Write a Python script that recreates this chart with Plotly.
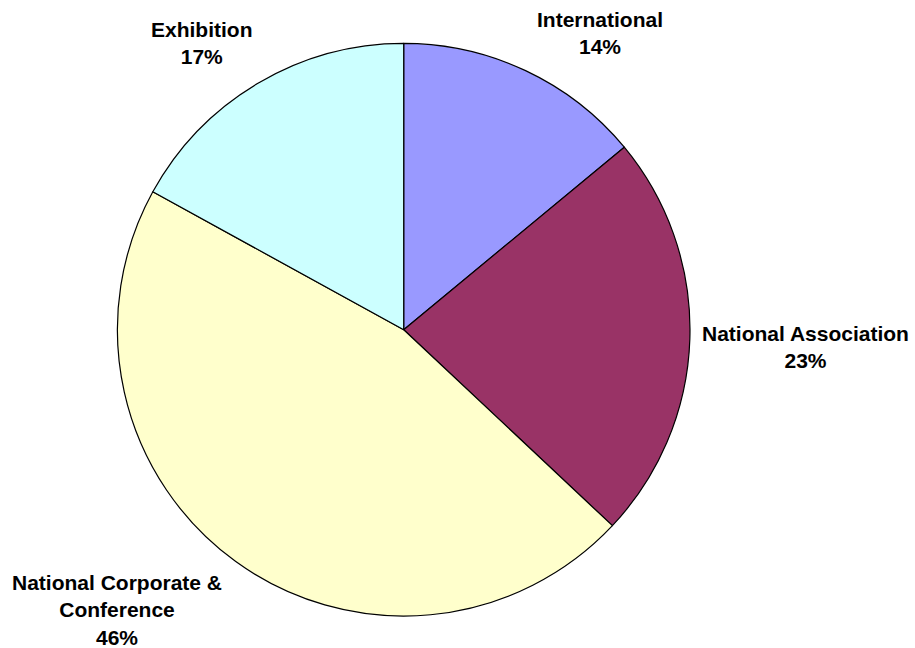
import plotly.graph_objects as go

# Share of events by market segment
segments = ["International", "National Association",
            "National Corporate & Conference", "Exhibition"]
shares = [14, 23, 46, 17]

colors = ["#9999FF", "#993366", "#FFFFCC", "#CCFFFF"]

W, H = 915, 648
cx, cy, r = 403.7, 329.7, 286.3  # pie centre and radius in pixels

fig = go.Figure(go.Pie(
    labels=segments,
    values=shares,
    sort=False,
    direction="clockwise",
    rotation=0,
    textinfo="none",
    hoverinfo="label+percent",
    marker=dict(colors=colors, line=dict(color="black", width=1.2)),
    domain=dict(x=[(cx - r) / W, (cx + r) / W],
                y=[(H - cy - r) / H, (H - cy + r) / H]),
    showlegend=False,
))

# label text blocks: wrapped names plus percentage, placed around the pie
label_lines = {
    "International": ["International"],
    "National Association": ["National Association"],
    "National Corporate & Conference": ["National Corporate &", "Conference"],
    "Exhibition": ["Exhibition"],
}
label_pos = {
    "International": (600, 33.5),
    "National Association": (805, 347),
    "National Corporate & Conference": (117, 610),
    "Exhibition": (201.5, 43),
}

total = sum(shares)
for seg, val in zip(segments, shares):
    pct = round(100 * val / total)
    text = "<br>".join(label_lines[seg] + [f"{pct}%"])
    x, y = label_pos[seg]
    fig.add_annotation(
        x=x / W, y=1 - y / H, xref="paper", yref="paper",
        text=text, showarrow=False, xanchor="center", yanchor="middle",
        align="center",
        font=dict(family="Liberation Sans, Arial, sans-serif", size=21,
                  color="black", weight="bold"),
    )

fig.update_layout(
    width=W, height=H,
    margin=dict(l=0, r=0, t=0, b=0),
    paper_bgcolor="white",
    plot_bgcolor="white",
)

fig.write_html("out.html")
